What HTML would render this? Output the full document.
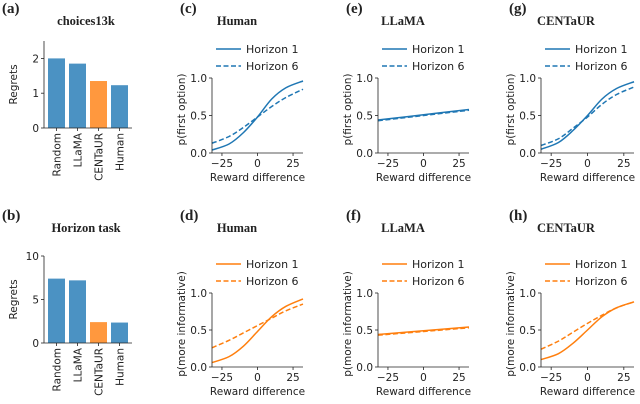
<!DOCTYPE html>
<html><head><meta charset="utf-8"><style>
body{margin:0;background:#fff}
svg{display:block}
text{font-family:"DejaVu Sans","Liberation Sans",sans-serif;font-size:10.5px;fill:#222}
text.serif{font-family:"Liberation Serif",serif;font-weight:bold}
text.lab{font-size:15px}
text.tit{font-size:12.5px}
text.leg{font-size:11px}
</style></head><body>
<svg id="s" width="640" height="404"></svg>
<script>
// ---- data ----
const barCats = ["Random","LLaMA","CENTaUR","Human"];
const regretsChoices = [2.0,1.85,1.35,1.23];
const regretsHorizon = [7.4,7.2,2.4,2.35];
const xs = [-32,-20,-10,0,10,20,32];
const xsLin = [-32,0,32];
const humanTopH1 = [0.04,0.12,0.27,0.48,0.72,0.87,0.96];
const humanTopH6 = [0.13,0.22,0.34,0.48,0.62,0.74,0.85];
const llamaTopH1 = [0.44,0.51,0.58];
const llamaTopH6 = [0.43,0.50,0.57];
const centTopH1 = [0.05,0.14,0.30,0.50,0.72,0.86,0.95];
const centTopH6 = [0.10,0.19,0.33,0.48,0.65,0.78,0.88];
const humanBotH1 = [0.06,0.14,0.28,0.48,0.68,0.82,0.92];
const humanBotH6 = [0.26,0.36,0.46,0.56,0.66,0.76,0.85];
const llamaBotH1 = [0.44,0.49,0.54];
const llamaBotH6 = [0.43,0.48,0.53];
const centBotH1 = [0.10,0.18,0.32,0.50,0.68,0.80,0.88];
const centBotH6 = [0.24,0.35,0.47,0.59,0.70,0.80,0.88];
const xTicks = [-25,0,25];
const yTicksP = [0,0.5,1.0];

const S=document.getElementById('s'),NS="http://www.w3.org/2000/svg";
function el(t,a,p){const e=document.createElementNS(NS,t);for(const k in a)e.setAttribute(k,a[k]);(p||S).appendChild(e);return e;}
function txt(s,a,p){const e=el('text',a,p);e.textContent=s;return e;}
const BLUE="#1f77b4",ORANGE="#ff7f0e";

function barPanel(x0,yTop,y0,ymax,ticks,vals,label,title,tag,labY){
  const g=el('g',{});
  
  
  const ys=v=>y0-(y0-yTop)*v/ymax;
  const L=txt(label,{x:2,y:labY,class:'serif lab'},g);
  
  const T=txt(title,{x:86,y:labY+12,class:'serif tit','text-anchor':'middle'},g);
  
  const bw=17,step=21;
  vals.forEach((v,i)=>{
    const bx=x0+4+i*step;
    const r=el('rect',{x:bx,y:ys(v),width:bw,height:y0-ys(v),fill:barCats[i]=="CENTaUR"?"#ff983e":"#4b92c3"},g);
    
    
    const t=txt(barCats[i],{transform:`translate(${bx+bw/2+4},${y0+5}) rotate(-90)`,'text-anchor':'end'},g);
    
    el('line',{x1:bx+bw/2,x2:bx+bw/2,y1:y0,y2:y0+3,stroke:'#222','stroke-width':0.8},g);
  });
  el('line',{x1:x0,x2:x0,y1:yTop,y2:y0,stroke:'#222','stroke-width':0.8},g);
  el('line',{x1:x0,x2:x0+88,y1:y0,y2:y0,stroke:'#222','stroke-width':0.8},g);
  ticks.forEach(t=>{el('line',{x1:x0-3,x2:x0,y1:ys(t),y2:ys(t),stroke:'#222','stroke-width':0.8},g);
    const e=txt(String(t),{x:x0-5,y:ys(t)+4,'text-anchor':'end'},g);
    });
  const yl=txt('Regrets',{transform:`translate(17,${(yTop+y0)/2}) rotate(-90)`,'text-anchor':'middle'},g);
  
}
barPanel(44,41,128,2.5,[0,1,2],regretsChoices,'(a)','choices13k','choices13k',13);
barPanel(44,256,343,10,[0,5,10],regretsHorizon,'(b)','Horizon task','horizon',220);

function path(px,py){ // catmull-rom
  let d=`M${px[0]},${py[0]}`;
  for(let i=0;i<px.length-1;i++){
    const p0=[px[Math.max(i-1,0)],py[Math.max(i-1,0)]],p1=[px[i],py[i]],p2=[px[i+1],py[i+1]],p3=[px[Math.min(i+2,px.length-1)],py[Math.min(i+2,px.length-1)]];
    d+=` C${p1[0]+(p2[0]-p0[0])/6},${p1[1]+(p2[1]-p0[1])/6} ${p2[0]-(p3[0]-p1[0])/6},${p2[1]-(p3[1]-p1[1])/6} ${p2[0]},${p2[1]}`;
  }
  return d;
}
function linePanel(x0,x1,yTop,y0,X,h1,h6,color,label,title,ylabel,tag,labY){
  const g=el('g',{});
  
  
  const sx=v=>x0+(x1-x0)*(v+32)/64, sy=v=>y0-(y0-yTop)*v;
  const L=txt(label,{x:x0-32,y:labY,class:'serif lab'},g);
  
  const T=txt(title,{x:x0+25,y:labY+12,class:'serif tit','text-anchor':'middle'},g);
  
  [[h1,'none','Horizon 1',-29],[h6,'5,2.5','Horizon 6',-12]].forEach(([vals,da,name,dy],k)=>{
    const p=el('path',{d:path(X.map(sx),vals.map(sy)),fill:'none',stroke:color,'stroke-width':1.5,'stroke-dasharray':da},g);
    
    
    const ly=yTop+dy;
    el('line',{x1:x0+4,x2:x0+29,y1:ly,y2:ly,stroke:color,'stroke-width':1.5,'stroke-dasharray':da},g);
    const lt=txt(name,{x:x0+34,y:ly+4,class:'leg'},g);
    
  });
  el('line',{x1:x0,x2:x0,y1:yTop,y2:y0,stroke:'#222','stroke-width':0.8},g);
  el('line',{x1:x0,x2:x1,y1:y0,y2:y0,stroke:'#222','stroke-width':0.8},g);
  yTicksP.forEach(t=>{el('line',{x1:x0-3,x2:x0,y1:sy(t),y2:sy(t),stroke:'#222','stroke-width':0.8},g);
    const e=txt(t.toFixed(1),{x:x0-5,y:sy(t)+4,'text-anchor':'end'},g);
    });
  xTicks.forEach(t=>{el('line',{x1:sx(t),x2:sx(t),y1:y0,y2:y0+3,stroke:'#222','stroke-width':0.8},g);
    const e=txt(t<0?'−'+(-t):String(t),{x:sx(t),y:y0+14,'text-anchor':'middle'},g);
    });
  const xl=txt('Reward difference',{x:(x0+x1)/2,y:y0+28,'text-anchor':'middle'},g);
  
  const yl=txt(ylabel,{transform:`translate(${x0-27},${(yTop+y0)/2-6}) rotate(-90)`,'text-anchor':'middle'},g);
  
}
linePanel(212,303,78,153,xs,humanTopH1,humanTopH6,BLUE,'(c)','Human','p(first option)','human-top',13);
linePanel(378,469,78,153,xsLin,llamaTopH1,llamaTopH6,BLUE,'(e)','LLaMA','p(first option)','llama-top',13);
linePanel(541,634,78,153,xs,centTopH1,centTopH6,BLUE,'(g)','CENTaUR','p(first option)','centaur-top',13);
linePanel(212,303,293,367,xs,humanBotH1,humanBotH6,ORANGE,'(d)','Human','p(more informative)','human-bottom',220);
linePanel(378,469,293,367,xsLin,llamaBotH1,llamaBotH6,ORANGE,'(f)','LLaMA','p(more informative)','llama-bottom',220);
linePanel(541,634,293,367,xs,centBotH1,centBotH6,ORANGE,'(h)','CENTaUR','p(more informative)','centaur-bottom',220);
</script>
</body></html>
